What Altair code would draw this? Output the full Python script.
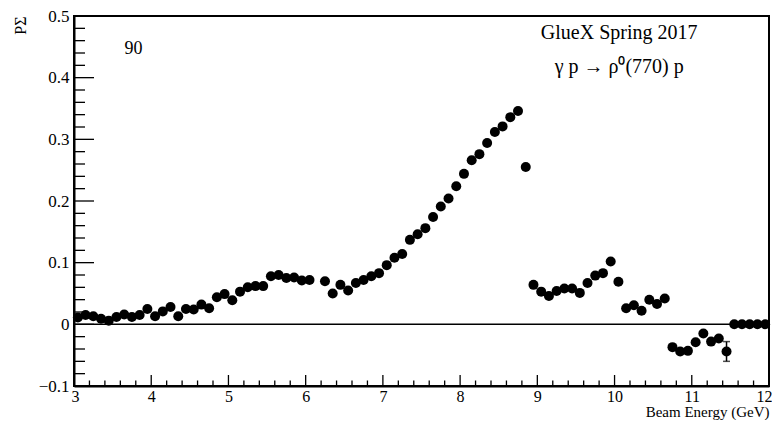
import altair as alt
import pandas as pd
import numpy as np

# Beam energy bin centres (GeV)
energy = [3.05, 3.15, 3.25, 3.35, 3.45, 3.55, 3.65, 3.75, 3.85, 3.95,
          4.05, 4.15, 4.25, 4.35, 4.45, 4.55, 4.65, 4.75, 4.85, 4.95,
          5.05, 5.15, 5.25, 5.35, 5.45, 5.55, 5.65, 5.75, 5.85, 5.95,
          6.05, 6.25, 6.35, 6.45, 6.55, 6.65, 6.75, 6.85, 6.95,
          7.05, 7.15, 7.25, 7.35, 7.45, 7.55, 7.65, 7.75, 7.85, 7.95,
          8.05, 8.15, 8.25, 8.35, 8.45, 8.55, 8.65, 8.75, 8.85, 8.95,
          9.05, 9.15, 9.25, 9.35, 9.45, 9.55, 9.65, 9.75, 9.85, 9.95,
          10.05, 10.15, 10.25, 10.35, 10.45, 10.55, 10.65, 10.75, 10.85, 10.95,
          11.05, 11.15, 11.25, 11.35, 11.45, 11.55, 11.65, 11.75, 11.85, 11.95]

# P Sigma values
p_sigma = [0.011, 0.015, 0.013, 0.009, 0.006, 0.012, 0.016, 0.012, 0.015, 0.025,
           0.013, 0.021, 0.028, 0.013, 0.025, 0.024, 0.032, 0.026, 0.044, 0.049,
           0.039, 0.053, 0.060, 0.062, 0.062, 0.078, 0.080, 0.075, 0.076, 0.071,
           0.072, 0.070, 0.050, 0.064, 0.055, 0.067, 0.072, 0.078, 0.083,
           0.096, 0.108, 0.114, 0.137, 0.146, 0.156, 0.174, 0.191, 0.204, 0.224,
           0.244, 0.266, 0.276, 0.294, 0.312, 0.321, 0.336, 0.346, 0.255, 0.064,
           0.053, 0.046, 0.054, 0.058, 0.058, 0.051, 0.067, 0.079, 0.083, 0.102,
           0.069, 0.026, 0.031, 0.022, 0.040, 0.033, 0.042, -0.037, -0.044, -0.043,
           -0.029, -0.015, -0.028, -0.023, -0.044, 0.0, 0.0, 0.0, 0.0, 0.0]

# statistical errors
p_sigma_err = [0.003] * 31 + [0.004] * 45 + [0.005] * 7 + [0.016] + [0.0] * 5

x_major = [3, 4, 5, 6, 7, 8, 9, 10, 11, 12]
x_minor = [round(v, 1) for v in np.arange(3.2, 12.0, 0.2) if abs(v - round(v)) > 0.01]
y_major = [-0.1, 0.0, 0.1, 0.2, 0.3, 0.4, 0.5]
y_minor = [round(v, 2) for v in np.arange(-0.08, 0.5, 0.02) if abs(v * 10 - round(v * 10)) > 0.01]

annot_text = ["90", "GlueX Spring 2017", "γ p → ρ⁰(770) p"]
annot_x = [3.77, 10.06, 10.06]
annot_y = [0.446, 0.473, 0.418]
annot_size = [18, 20, 20]

df = pd.DataFrame({"E": energy, "PS": p_sigma, "err": p_sigma_err})
df["lo"] = df["PS"] - df["err"]
df["hi"] = df["PS"] + df["err"]
df_err = df[df["err"] > 0.01]

W, H = 695, 370
FONT = "Liberation Serif"
xs = alt.Scale(domain=[3, 12], nice=False, zero=False)
ys = alt.Scale(domain=[-0.1, 0.5], nice=False, zero=False)

x_axis = alt.Axis(values=x_major, format="d", title="Beam Energy (GeV)", titleAnchor="end",
                  ticks=False, labelPadding=2, titlePadding=0, grid=False,
                  labelFlush=True, labelFlushOffset=3, titleFontSize=15, labelFontSize=16)
y_axis = alt.Axis(values=y_major, labelExpr="datum.value == 0 ? '0' : format(datum.value, '.1f')",
                  title="PΣ", titleAnchor="end", ticks=False, labelPadding=5,
                  titlePadding=10, grid=False, titleFontSize=16, labelFontSize=17)


def X(field):
    return alt.X(field, scale=xs, axis=x_axis, title="Beam Energy (GeV)")


def Y(field):
    return alt.Y(field, scale=ys, axis=y_axis, title="PΣ")


points = alt.Chart(df).mark_circle(size=100, color="black", opacity=1).encode(
    x=X("E:Q"), y=Y("PS:Q"))

errbars = alt.Chart(df).mark_rule(color="black", strokeWidth=1.5).encode(
    x=X("E:Q"), y=Y("lo:Q"), y2="hi:Q")
caps_lo = alt.Chart(df_err).mark_tick(orient="horizontal", size=7, thickness=1.5, color="black").encode(
    x=X("E:Q"), y=Y("lo:Q"))
caps_hi = alt.Chart(df_err).mark_tick(orient="horizontal", size=7, thickness=1.5, color="black").encode(
    x=X("E:Q"), y=Y("hi:Q"))

zero_line = alt.Chart(pd.DataFrame({"z": [0.0]})).mark_rule(color="black", strokeWidth=1.5).encode(
    y=Y("z:Q"))


def xticks(vals, length):
    return alt.Chart(pd.DataFrame({"t": vals})).mark_rule(color="black", strokeWidth=1.3).encode(
        x=X("t:Q"), y=alt.value(H), y2=alt.value(H - length))


def yticks(vals, length):
    return alt.Chart(pd.DataFrame({"t": vals})).mark_rule(color="black", strokeWidth=1.3).encode(
        y=Y("t:Q"), x=alt.value(0), x2=alt.value(length))


annot = alt.Chart(pd.DataFrame({"label": annot_text, "x": annot_x, "y": annot_y,
                                "s": annot_size})).mark_text(
    font=FONT, color="black", align="center", baseline="middle").encode(
    x=X("x:Q"), y=Y("y:Q"), text="label:N",
    size=alt.Size("s:Q", scale=None, legend=None))

chart = alt.layer(
    points, zero_line,
    xticks(x_major, 11), xticks(x_minor, 5.5),
    yticks(y_major, 20), yticks(y_minor, 11),
    errbars, caps_lo, caps_hi, annot,
).properties(
    width=W, height=H,
    autosize=alt.AutoSizeParams(type="none"),
    padding={"left": 66, "top": 8, "right": 3, "bottom": 34},
).configure_view(
    stroke="black", strokeWidth=2
).configure_axis(
    domainColor="black", domainWidth=2,
    labelFont=FONT, labelColor="black",
    titleFont=FONT, titleFontWeight="normal", titleColor="black",
)

chart.save("out.html", embed_options={"renderer": "svg", "actions": False})
